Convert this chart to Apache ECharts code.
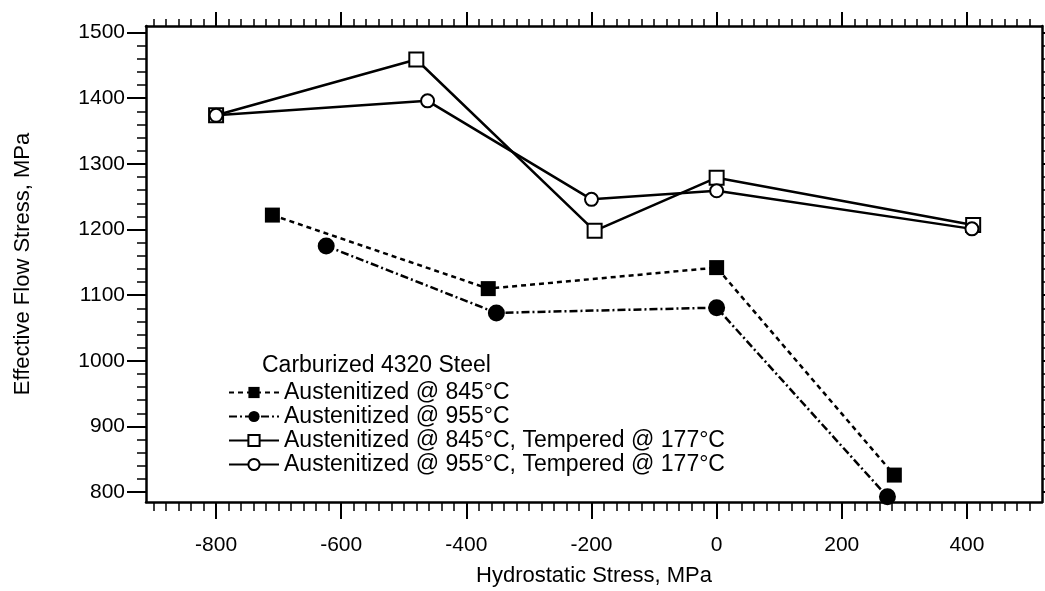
<!DOCTYPE html>
<html>
<head>
<meta charset="utf-8">
<script src="https://cdn.jsdelivr.net/npm/echarts@6/dist/echarts.min.js"></script>
<style>
  html, body { margin: 0; padding: 0; background: #fff; }
  #chart { width: 1045px; height: 591px; }
</style>
</head>
<body>
<div id="chart"></div>
<script>
// Tick values for both axes
const xTicks = [-800, -600, -400, -200, 0, 200, 400];
const yTicks = [800, 900, 1000, 1100, 1200, 1300, 1400, 1500];

// Austenitized @ 845°C
const hydro845 = [-710, -365, 0, 284];
const flow845 = [1222, 1110, 1142, 826];
// Austenitized @ 955°C
const hydro955 = [-624, -352, 0, 273];
const flow955 = [1175, 1073, 1081, 793];
// Austenitized @ 845°C, Tempered @ 177°C
const hydro845T = [-800, -480, -195, 0, 410];
const flow845T = [1374, 1459, 1198, 1279, 1207];
// Austenitized @ 955°C, Tempered @ 177°C
const hydro955T = [-800, -462, -200, 0, 408];
const flow955T = [1374, 1396, 1246, 1259, 1201];

const names = [
  'Austenitized @ 845°C',
  'Austenitized @ 955°C',
  'Austenitized @ 845°C, Tempered @ 177°C',
  'Austenitized @ 955°C, Tempered @ 177°C'
];

const pairs = (xs, ys) => xs.map((x, i) => [x, ys[i]]);
const FONT = 'Liberation Sans, Arial, sans-serif';
const INK = '#000';
const TICK_FS = 21;
const NAME_FS = 22;
const LEGEND_FS = 23;

const X_MIN = -912, X_MAX = 520;
const Y_MIN = 785, Y_MAX = 1510;

function xAxisCfg(pos, showLabels, major, minor) {
  return {
    type: 'value', position: pos, min: X_MIN, max: X_MAX,
    splitNumber: 7, minInterval: 200, maxInterval: 200,
    axisLine: { show: true, onZero: false, lineStyle: { color: INK, width: 2.5 } },
    axisTick: { show: true, customValues: xTicks, length: major, lineStyle: { color: INK, width: 2 } },
    minorTick: { show: true, splitNumber: 10, length: minor, lineStyle: { color: INK, width: 1.5 } },
    axisLabel: {
      show: showLabels, customValues: xTicks, margin: 33,
      fontSize: TICK_FS, color: INK, fontFamily: FONT,
      formatter: v => String(v)
    },
    splitLine: { show: false }, minorSplitLine: { show: false }
  };
}
function yAxisCfg(pos, showLabels, major, minor) {
  return {
    type: 'value', position: pos, min: Y_MIN, max: Y_MAX,
    splitNumber: 7, minInterval: 100, maxInterval: 100,
    axisLine: { show: true, onZero: false, lineStyle: { color: INK, width: 2.5 } },
    axisTick: { show: true, customValues: yTicks, length: major, lineStyle: { color: INK, width: 2 } },
    minorTick: { show: true, splitNumber: 5, length: minor, lineStyle: { color: INK, width: 1.5 } },
    axisLabel: {
      show: showLabels, customValues: yTicks, margin: 21,
      fontSize: TICK_FS, color: INK, fontFamily: FONT,
      formatter: v => String(v)
    },
    splitLine: { show: false }, minorSplitLine: { show: false }
  };
}

const xBottom = Object.assign(xAxisCfg('bottom', true, 17, 9), {
  name: 'Hydrostatic Stress, MPa', nameLocation: 'middle', nameGap: 63,
  nameTextStyle: { fontSize: NAME_FS, color: INK, fontFamily: FONT }
});
const xTop = xAxisCfg('top', false, 14, 7);
const yLeft = Object.assign(yAxisCfg('left', true, 19, 9), {
  name: 'Effective Flow Stress, MPa', nameLocation: 'middle', nameGap: 112,
  nameTextStyle: { fontSize: NAME_FS, color: INK, fontFamily: FONT }
});
const yRight = yAxisCfg('right', false, 19, 9);

const chart = echarts.init(document.getElementById('chart'), null, { renderer: 'canvas' });
chart.setOption({
  backgroundColor: '#fff',
  animation: false,
  title: {
    text: 'Carburized 4320 Steel', left: 262, top: 354, padding: 0,
    textStyle: { fontSize: LEGEND_FS, fontWeight: 'normal', color: INK, fontFamily: FONT }
  },
  legend: {
    orient: 'vertical', left: 223, top: 376,
    itemWidth: 50, itemHeight: 14, itemGap: 1,
    data: names,
    textStyle: { fontSize: LEGEND_FS, color: INK, fontFamily: FONT }
  },
  grid: { left: 146, right: 3, top: 26, bottom: 89, containLabel: false, outerBoundsMode: 'none' },
  xAxis: [xBottom, xTop],
  yAxis: [yLeft, yRight],
  series: [
    {
      name: names[0], type: 'line', xAxisIndex: 0, yAxisIndex: 0,
      data: pairs(hydro845, flow845),
      symbol: 'rect', symbolSize: 15,
      itemStyle: { color: INK },
      lineStyle: { color: INK, width: 2.5, type: [5, 4] }
    },
    {
      name: names[1], type: 'line', xAxisIndex: 0, yAxisIndex: 0,
      data: pairs(hydro955, flow955),
      symbol: 'circle', symbolSize: 17,
      itemStyle: { color: INK },
      lineStyle: { color: INK, width: 2.5, type: [8, 3, 2, 3] }
    },
    {
      name: names[2], type: 'line', xAxisIndex: 0, yAxisIndex: 0,
      data: pairs(hydro845T, flow845T),
      symbol: 'emptyRect', symbolSize: 14,
      itemStyle: { color: INK, borderColor: INK, borderWidth: 1.5 },
      lineStyle: { color: INK, width: 2.5 }
    },
    {
      name: names[3], type: 'line', xAxisIndex: 0, yAxisIndex: 0,
      data: pairs(hydro955T, flow955T),
      symbol: 'emptyCircle', symbolSize: 13,
      itemStyle: { color: INK, borderColor: INK, borderWidth: 1.5 },
      lineStyle: { color: INK, width: 2.5 }
    }
  ]
});
</script>
</body>
</html>
